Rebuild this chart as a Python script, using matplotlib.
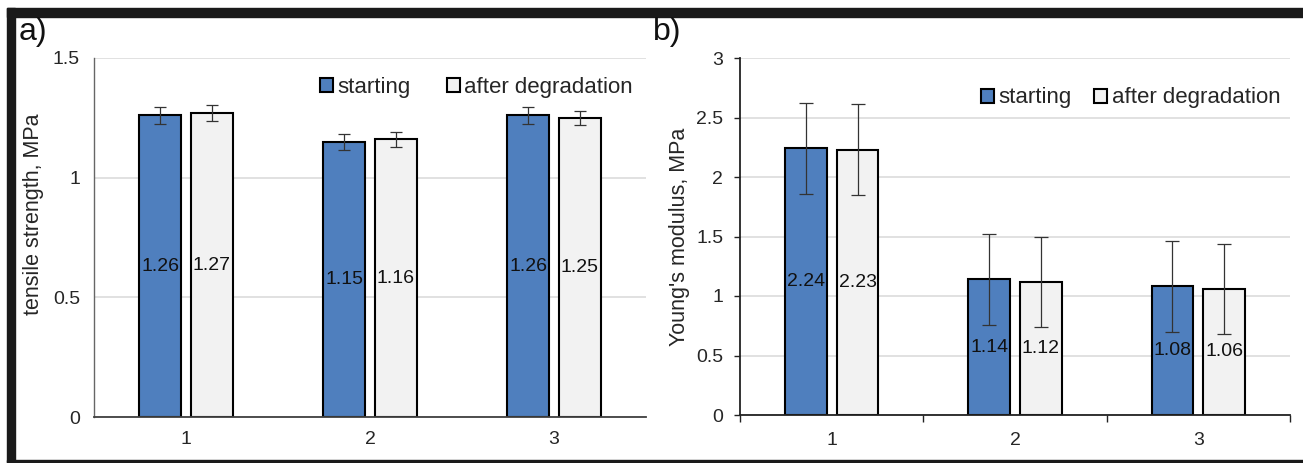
import matplotlib
matplotlib.use("Agg")
import matplotlib.pyplot as plt
from matplotlib.patches import Rectangle
import numpy as np

plt.rcParams['font.family'] = ['Liberation Sans', 'DejaVu Sans']

categories = ["1", "2", "3"]
series_names = ["starting", "after degradation"]

# panel a: tensile strength
ts_start = [1.26, 1.15, 1.26]
ts_after = [1.27, 1.16, 1.25]
ts_start_err = [0.035, 0.033, 0.035]
ts_after_err = [0.035, 0.030, 0.030]

# panel b: Young's modulus
ym_start = [2.24, 1.14, 1.08]
ym_after = [2.23, 1.12, 1.06]
ym_start_err = [0.38, 0.38, 0.38]
ym_after_err = [0.38, 0.38, 0.38]

BLUE = "#4f7fbe"
LIGHT = "#f2f2f2"
GRID = "#d9d9d9"
TXT = "#262626"

W, H = 1303, 463
fig = plt.figure(figsize=(W / 100, H / 100), dpi=100)

# black frame pieces
fig.patches.append(Rectangle((7 / W, (H - 16.5) / H), 1 - 7 / W, 8.5 / H,
                             transform=fig.transFigure, color="#1a1a1a", zorder=-1))
fig.patches.append(Rectangle((7 / W, 0), 7.5 / W, (H - 8) / H,
                             transform=fig.transFigure, color="#1a1a1a", zorder=-1))
fig.patches.append(Rectangle((7 / W, 1 / H), 1 - 7 / W, 2 / H,
                             transform=fig.transFigure, color="#1a1a1a", zorder=-1))

x = np.arange(len(categories))
bw = 0.228
off = 0.141


def draw(ax, s, a, se, ae, ymax, ystep, ylabel, ticks_style, capsize):
    ax.set_axisbelow(True)
    ax.yaxis.grid(True, color=GRID, lw=1.1)
    ax.bar(x - off, s, bw, color=BLUE, edgecolor="black", lw=1.5, label=series_names[0], zorder=2)
    ax.bar(x + off, a, bw, color=LIGHT, edgecolor="black", lw=1.5, label=series_names[1], zorder=2)
    ax.errorbar(x - off, s, yerr=se, fmt="none", ecolor="#333333", elinewidth=0.9,
                capsize=capsize, capthick=0.9, zorder=3)
    ax.errorbar(x + off, a, yerr=ae, fmt="none", ecolor="#333333", elinewidth=0.9,
                capsize=capsize, capthick=0.9, zorder=3)
    for xi, v in zip(x - off, s):
        ax.text(xi, v / 2, f"{v:.2f}", ha="center", va="center", fontsize=14, color="#111111", zorder=4)
    for xi, v in zip(x + off, a):
        ax.text(xi, v / 2, f"{v:.2f}", ha="center", va="center", fontsize=14, color="#111111", zorder=4)
    ax.set_xlim(-0.5, len(categories) - 0.5)
    ax.set_ylim(0, ymax)
    yt = np.arange(0, ymax + 1e-9, ystep)
    ax.set_yticks(yt)
    ax.set_yticklabels([f"{t:g}" for t in yt])
    ax.set_xticks(x)
    ax.set_xticklabels(categories)
    ax.set_ylabel(ylabel, fontsize=15.5, color=TXT)
    for sp in ["top", "right"]:
        ax.spines[sp].set_visible(False)
    ax.tick_params(axis="both", labelsize=14, colors=TXT, pad=10)
    if ticks_style == "a":
        ax.tick_params(axis="both", length=0)
        ax.spines["left"].set_color("#666666")
        ax.spines["left"].set_linewidth(1.0)
        ax.spines["bottom"].set_color("#404040")
        ax.spines["bottom"].set_linewidth(1.3)
    else:
        ax.spines["left"].set_color("#222222")
        ax.spines["bottom"].set_color("#222222")
        ax.spines["left"].set_linewidth(1.3)
        ax.spines["bottom"].set_linewidth(1.3)
        ax.tick_params(axis="y", length=4, width=1, color="#222222", pad=8)
        ax.tick_params(axis="x", which="major", length=0, pad=12)
        ax.set_xticks(np.arange(-0.5, len(categories)), minor=True)
        ax.tick_params(axis="x", which="minor", length=5, width=1, color="#222222")


axa = fig.add_axes([94 / W, (H - 417) / H, 552 / W, 359 / H])
draw(axa, ts_start, ts_after, ts_start_err, ts_after_err, 1.5, 0.5,
     "tensile strength, MPa", "a", 4)
axa.yaxis.set_label_coords(-0.091, 0.565)
axa.legend(loc="center", bbox_to_anchor=(0.693, 0.919), ncol=2, frameon=False,
           fontsize=16, handlelength=0.6, handleheight=0.6, handletextpad=0.2,
           columnspacing=1.6, labelcolor=TXT)

axb = fig.add_axes([740 / W, (H - 415) / H, 550 / W, 357 / H])
draw(axb, ym_start, ym_after, ym_start_err, ym_after_err, 3, 0.5,
     "Young's modulus, MPa", "b", 5)
axb.yaxis.set_label_coords(-0.091, 0.5)
axb.legend(loc="center", bbox_to_anchor=(0.71, 0.888), ncol=2, frameon=False,
           fontsize=16, handlelength=0.6, handleheight=0.6, handletextpad=0.2,
           columnspacing=1.0, labelcolor=TXT)

fig.text(19 / W, 1 - 32 / H, "a)", fontsize=23, color="#111111", va="center", ha="left")
fig.text(653 / W, 1 - 32 / H, "b)", fontsize=23, color="#111111", va="center", ha="left")

fig.savefig("out.png", dpi=100, facecolor="white")
